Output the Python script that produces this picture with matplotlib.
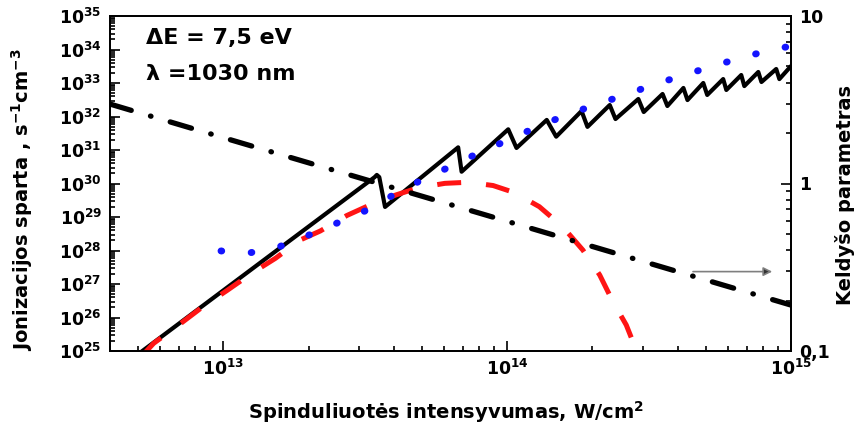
import matplotlib
matplotlib.use("Agg")
import matplotlib.pyplot as plt
from matplotlib.ticker import LogLocator, FixedLocator, FixedFormatter, NullFormatter

plt.rcParams["font.family"] = ["DejaVu Sans"]
plt.rcParams["font.weight"] = "bold"
plt.rcParams["mathtext.fontset"] = "custom"
plt.rcParams["mathtext.rm"] = "DejaVu Sans:bold"
plt.rcParams["mathtext.it"] = "DejaVu Sans:bold"
plt.rcParams["mathtext.bf"] = "DejaVu Sans:bold"
plt.rcParams["mathtext.default"] = "regular"

# Total ionization rate (with channel closings), s^-1 cm^-3
total_I = [5.0e12, 3.42e13, 3.48e13, 3.55e13, 3.72e13,
           6.73e13, 6.92e13, 1.01e14, 1.08e14, 1.38e14, 1.49e14,
           1.83e14, 1.92e14, 2.30e14, 2.41e14, 2.90e14, 3.03e14,
           3.53e14, 3.67e14, 4.18e14, 4.32e14, 4.91e14, 5.07e14,
           5.77e14, 5.92e14, 6.68e14, 6.85e14, 7.67e14, 7.87e14,
           8.87e14, 9.10e14, 1.0e15]
total_rate = [7.8e24, 1.55e30, 1.8e30, 1.55e30, 2.0e29,
              1.2e31, 2.25e30, 4.15e31, 1.15e31, 7.9e31, 2.5e31,
              1.46e32, 4.9e31, 2.2e32, 8.4e31, 3.33e32, 1.36e32,
              4.7e32, 2.06e32, 7.1e32, 3.1e32, 1.0e33, 4.4e32,
              1.31e33, 6.2e32, 1.73e33, 8.1e32, 2.13e33, 1.07e33,
              2.62e33, 1.31e33, 3.2e33]

# Tunnel ionization rate
tunnel_I = [9.84e12, 1.25e13, 1.58e13, 1.97e13, 2.50e13, 3.16e13, 3.98e13,
            5.0e13, 6.3e13, 8.0e13, 1.01e14, 1.28e14, 1.62e14, 2.04e14,
            2.60e14, 3.26e14, 4.10e14, 5.23e14, 6.58e14, 8.28e14, 1.0e15]
tunnel_rate = [9.7e27, 8.6e27, 1.30e28, 2.71e28, 6.4e28, 1.51e29, 4.54e29,
               1.27e30, 3.17e30, 8.4e30, 1.99e31, 4.96e31, 1.11e32, 2.20e32,
               4.4e32, 8.7e32, 1.62e33, 3.07e33, 5.46e33, 9.2e33, 1.27e34]

# Multiphoton ionization rate
mpi_I = [5.25e12, 5.70e12, 6.98e12, 8.55e12, 1.03e13, 1.27e13, 1.53e13,
         1.87e13, 2.20e13, 2.73e13, 3.32e13, 4.06e13, 4.87e13, 6.04e13,
         7.30e13, 8.93e13, 1.06e14, 1.30e14, 1.57e14, 1.85e14, 2.12e14,
         2.36e14, 2.63e14, 2.86e14, 2.93e14]
mpi_rate = [8.0e24, 1.70e25, 5.97e25, 2.2e26, 6.3e26, 2.17e27, 5.85e27,
            2.06e28, 3.82e28, 1.11e29, 2.36e29, 4.54e29, 7.45e29, 1.01e30,
            1.09e30, 8.7e29, 5.38e29, 2.03e29, 5.13e28, 1.03e28, 1.86e27,
            2.97e26, 5.97e25, 1.0e25, 5.4e24]

# Keldysh parameter (right axis)
keldysh_I = [4.0e12, 1.0e13, 1.0e14, 1.0e15]
keldysh_gamma = [2.98, 1.88, 0.595, 0.188]

x_ticks = [1e13, 1e14, 1e15]
x_tick_labels = ["$10^{13}$", "$10^{14}$", "$10^{15}$"]
y_ticks = [10.0 ** k for k in range(25, 36)]
y_tick_labels = ["$10^{%d}$" % k for k in range(25, 36)]
g_ticks = [0.1, 1, 10]
g_tick_labels = ["0,1", "1", "10"]

W, H = 858, 432
fig = plt.figure(figsize=(W / 100, H / 100), dpi=100)
ax = fig.add_axes([110 / W, 1 - 351 / H, 681 / W, 335 / H])
ax2 = ax.twinx()

ax.plot(total_I, total_rate, color="black", lw=3.0, solid_joinstyle="round",
        solid_capstyle="round", zorder=3)
ax.plot(mpi_I, mpi_rate, color="#ff1414", lw=3.6, linestyle=(0, (4.8, 5.0)),
        zorder=4)
ax.plot(tunnel_I, tunnel_rate, color="#1414ff", lw=5.0,
        linestyle=(0, (0.1, 4.25)), dash_capstyle="round", zorder=5)
ax2.plot(keldysh_I, keldysh_gamma, color="black", lw=3.8,
         linestyle=(0, (4.2, 3.8, 0.1, 3.8)), dash_capstyle="round", zorder=3)

ax.set_xscale("log")
ax.set_yscale("log")
ax.set_xlim(4.0e12, 1.0e15)
ax.set_ylim(1e25, 1e35)
ax2.set_yscale("log")
ax2.set_ylim(0.1, 10)

ax.xaxis.set_major_locator(FixedLocator(x_ticks))
ax.xaxis.set_major_formatter(FixedFormatter(x_tick_labels))
ax.xaxis.set_minor_locator(LogLocator(base=10, subs=range(2, 10), numticks=20))
ax.xaxis.set_minor_formatter(NullFormatter())
ax.yaxis.set_major_locator(FixedLocator(y_ticks))
ax.yaxis.set_major_formatter(FixedFormatter(y_tick_labels))
ax.yaxis.set_minor_locator(LogLocator(base=10, subs=range(2, 10), numticks=30))
ax.yaxis.set_minor_formatter(NullFormatter())
ax2.yaxis.set_major_locator(FixedLocator(g_ticks))
ax2.yaxis.set_major_formatter(FixedFormatter(g_tick_labels))
ax2.yaxis.set_minor_locator(LogLocator(base=10, subs=range(2, 10), numticks=10))
ax2.yaxis.set_minor_formatter(NullFormatter())

for a in (ax, ax2):
    for s in a.spines.values():
        s.set_linewidth(1.3)
ax.tick_params(which="both", direction="in", top=False, right=False,
               width=1.2, labelsize=12.5, pad=6)
ax.tick_params(which="major", length=7)
ax.tick_params(which="minor", length=3.5)
ax2.tick_params(which="both", direction="in", width=1.2, labelsize=12.5, pad=6)
ax2.tick_params(which="major", length=7)
ax2.tick_params(which="minor", length=3.5)

ax.annotate("", xy=(0.9765, 0.237), xytext=(0.852, 0.237),
            xycoords="axes fraction",
            arrowprops=dict(arrowstyle="-|>", edgecolor="#7f7f7f",
                            facecolor="#333333", lw=1.2, mutation_scale=13))

fig.text(146 / W, 1 - 44 / H, "\u0394E = 7,5 eV", fontsize=16,
         fontweight="bold", va="baseline", ha="left")
fig.text(146 / W, 1 - 80 / H, "\u03bb =1030 nm", fontsize=16,
         fontweight="bold", va="baseline", ha="left")

fig.text(446 / W, 1 - 412 / H, "Spinduliuot\u0117s intensyvumas, W/cm$^{2}$",
         fontsize=14, fontweight="bold", ha="center", va="center")
fig.text(22 / W, 1 - 200 / H, "Jonizacijos sparta , s$^{-1}$cm$^{-3}$",
         fontsize=14, fontweight="bold", rotation=90, ha="center", va="center")
fig.text(845 / W, 1 - 195 / H, "Keldy\u0161o parametras",
         fontsize=14, fontweight="bold", rotation=90, ha="center", va="center")

fig.savefig("out.png", dpi=100)
